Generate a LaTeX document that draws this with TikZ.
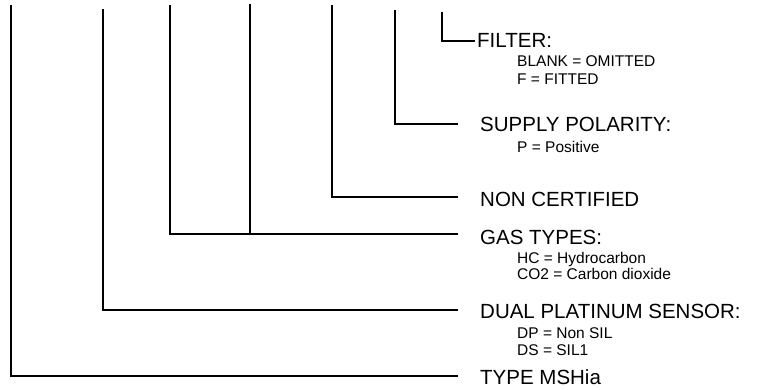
\documentclass[tikz,border=0pt]{standalone}
\usepackage{fontspec}
\setmainfont{Liberation Sans}
\begin{document}
\begin{tikzpicture}[x=1pt,y=-1pt,
  lead/.style={line width=1.3pt},
  mainlbl/.style={anchor=base west,inner sep=0pt,font=\fontsize{20.5}{24}\selectfont},
  sublbl/.style={anchor=base west,inner sep=0pt,font=\fontsize{15.5}{18}\selectfont}]
\useasboundingbox (0,0) rectangle (759,390);
% top ends
\coordinate (t1) at (11,5);
\coordinate (t2) at (103,9);
\coordinate (t3) at (170,5);
\coordinate (t4) at (250,4);
\coordinate (t5) at (332,5);
\coordinate (t6) at (395,10);
\coordinate (t7) at (442,12);
% line ends
\coordinate (e1) at (458,376);
\coordinate (e2) at (458,310);
\coordinate (e3) at (458,234);
\coordinate (j4) at (250,234);
\coordinate (e5) at (458,197);
\coordinate (e6) at (458,124);
\coordinate (e7) at (475,41);
% labels
\node[mainlbl] (l7) at (477,48) {FILTER:};
\node[sublbl] (s7a) at (517,67) {BLANK = OMITTED};
\node[sublbl] (s7b) at (517,85) {F = FITTED};
\node[mainlbl] (l6) at (480,132) {SUPPLY POLARITY:};
\node[sublbl] (s6a) at (517,153) {P = Positive};
\node[mainlbl] (l5) at (480,206) {NON CERTIFIED};
\node[mainlbl] (l3) at (480,244) {GAS TYPES:};
\node[sublbl] (s3a) at (517,263) {HC = Hydrocarbon};
\node[sublbl] (s3b) at (517,279) {CO2 = Carbon dioxide};
\node[mainlbl] (l2) at (480,318) {DUAL PLATINUM SENSOR:};
\node[sublbl] (s2a) at (517,338) {DP = Non SIL};
\node[sublbl] (s2b) at (517,355) {DS = SIL1};
\node[mainlbl] (l1) at (480,384) {TYPE MSHia};
% leaders
\draw[lead] (t1) |- (e1);
\draw[lead] (t2) |- (e2);
\draw[lead] (t3) |- (e3);
\draw[lead] (t4) -- (j4);
\draw[lead] (t5) |- (e5);
\draw[lead] (t6) |- (e6);
\draw[lead] (t7) |- (e7);
\end{tikzpicture}
\end{document}
